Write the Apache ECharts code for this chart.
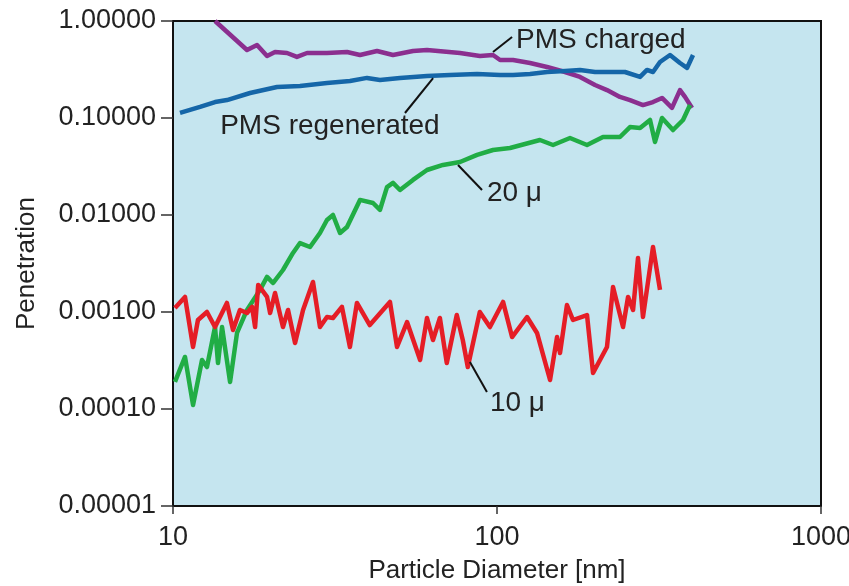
<!DOCTYPE html>
<html>
  <head>
    <meta charset="utf-8" />
    <title>Penetration vs particle diameter</title>
    <script src="https://cdn.jsdelivr.net/npm/echarts@6/dist/echarts.min.js"></script>
    <style>
      body {
        margin: 0;
        padding: 0;
        background: #fff;
      }
      #chart {
        width: 849px;
        height: 586px;
      }
    </style>
  </head>
  <body>
    <div id="chart"></div>
    <script type="text/javascript">
      // particle diameter [nm] / penetration
      var chargedX = [13.48, 16.92, 18.17, 19.51, 20.65, 22.49, 24.13, 25.92, 29.87, 34.44, 37.77, 42.62, 47.75, 55.04, 60.81, 76.88, 88.6, 97.2, 102.2,
        112.1, 126.5, 142.7, 162.2, 180.4, 200.7, 218.5, 239.6, 257.3, 282.2, 303.0, 323.1, 346.8, 367.1, 380.4, 399.9];
      var chargedY = [1.0, 0.502, 0.566, 0.436, 0.479, 0.468, 0.426, 0.468, 0.468, 0.479, 0.446, 0.491, 0.446, 0.491, 0.502, 0.468, 0.436, 0.446, 0.396,
        0.396, 0.369, 0.336, 0.298, 0.265, 0.219, 0.194, 0.165, 0.153, 0.136, 0.146, 0.161, 0.127, 0.194, 0.165, 0.127];

      var regenX = [10.51, 12.12, 13.48, 14.68, 17.29, 20.94, 24.66, 29.87, 35.18, 39.7, 43.54, 50.19, 60.81, 71.6, 86.8, 102.2,
        112.1, 126.5, 142.7, 162.2, 180.4, 200.7, 228.0, 248.3, 276.4, 290.4, 303.0, 318.5, 342, 367.1, 385.9, 402.7];
      var regenY = [0.113, 0.13, 0.146, 0.153, 0.181, 0.209, 0.214, 0.23, 0.241, 0.259, 0.247, 0.259, 0.271, 0.278, 0.284, 0.278,
        0.278, 0.284, 0.298, 0.305, 0.313, 0.298, 0.298, 0.298, 0.265, 0.313, 0.298, 0.378, 0.446, 0.369, 0.328, 0.446];

      var micro20X = [10.14, 10.89, 11.53, 12.29, 12.73, 13.48, 13.77, 14.17, 15.0, 15.76, 16.92, 18.56, 19.51, 20.35, 21.85, 23.46, 24.66, 26.48, 28.42,
        29.87, 31.17, 32.77, 34.44, 37.77, 41.43, 43.54, 45.76, 47.75, 50.19, 55.04, 60.81, 68.13, 76.88, 86.8, 97.2, 109.7,
        135.7, 148.9, 168.0, 189.6, 212.4, 239.6, 257.3, 276.4, 296.7, 307.4, 323.1, 349.3, 375.1, 394.2];
      var micro20Y = [1.9e-4, 3.44e-4, 1.1e-4, 3.2e-4, 2.71e-4, 7.0e-4, 2.98e-4, 7.0e-4, 1.9e-4, 6.08e-4, 1.05e-3, 1.69e-3, 2.3e-3, 1.99e-3, 2.71e-3, 4.06e-3, 5.14e-3, 4.68e-3, 6.52e-3,
        8.88e-3, 0.01, 6.52e-3, 7.52e-3, 0.0143, 0.0133, 0.0113, 0.0194, 0.0214, 0.0181, 0.023, 0.0291, 0.0328, 0.0352, 0.0416, 0.0468, 0.0491,
        0.0593, 0.0527, 0.0622, 0.0527, 0.0637, 0.0637, 0.0807, 0.0789, 0.0954, 0.0566, 0.1, 0.0752, 0.0954, 0.136];

      var micro10X = [10.14, 10.89, 11.53, 11.94, 12.73, 13.48, 14.67, 15.32, 16.09, 16.92, 17.54, 17.92, 18.32, 19.51, 19.94, 20.65, 21.85, 22.65, 23.81, 25.2,
        27.04, 28.42, 29.87, 31.17, 33.22, 35.16, 36.96, 40.49, 46.73, 49.13, 52.77, 57.9, 60.81, 63.45, 66.63, 69.98, 75.14, 78.41, 81.26,
        88.5, 95.1, 104.4, 111.3, 123.8, 132.9, 145.8, 153.2, 156.5, 164.4, 171.6, 189.6, 197.9, 218.5, 228.1, 244.9, 253.8, 263.0, 272.4, 282.2, 303.0, 318.5];
      var micro10Y = [1.1e-3, 1.43e-3, 4.36e-4, 8.27e-4, 1.0e-3, 7.0e-4, 1.24e-3, 6.52e-4, 1.05e-3, 9.77e-4, 1.13e-3, 7.0e-4, 1.9e-3, 1.43e-3, 9.77e-4, 1.57e-3, 7.0e-4, 1.05e-3, 4.79e-4, 1.05e-3,
        2.04e-3, 7.0e-4, 8.88e-4, 8.68e-4, 1.13e-3, 4.36e-4, 1.24e-3, 7.34e-4, 1.27e-3, 4.36e-4, 7.88e-4, 3.2e-4, 8.68e-4, 5.14e-4, 8.68e-4, 2.98e-4, 9.31e-4, 5.14e-4, 2.71e-4,
        1.0e-3, 7.0e-4, 1.27e-3, 5.52e-4, 8.88e-4, 6.08e-4, 1.99e-4, 5.52e-4, 3.78e-4, 1.18e-3, 8.27e-4, 9.31e-4, 2.35e-4, 4.36e-4, 1.81e-3, 7.0e-4, 1.43e-3, 1.05e-3, 3.6e-3, 8.88e-4, 4.68e-3, 1.69e-3];

      var xTicks = [10, 100, 1000];

      function zip(xs, ys) {
        return xs.map(function (x, i) {
          return [x, ys[i]];
        });
      }

      var font = 'Liberation Sans, Arial, Helvetica, sans-serif';
      var textColor = '#222';

      // leader line + label for each curve
      function note(text, from, to, at, pos) {
        return {
          markLine: {
            silent: true,
            symbol: 'none',
            animation: false,
            label: { show: false },
            lineStyle: { color: '#111', width: 2, type: 'solid' },
            data: [[{ coord: from }, { coord: to }]]
          },
          markPoint: {
            silent: true,
            symbol: 'circle',
            symbolSize: 0,
            animation: false,
            label: {
              show: true,
              position: pos,
              distance: 0,
              formatter: text,
              color: textColor,
              fontFamily: font,
              fontSize: 28
            },
            data: [{ coord: at }]
          }
        };
      }

      function lineSeries(name, data, color, extra) {
        var s = {
          name: name,
          type: 'line',
          data: data,
          showSymbol: false,
          symbol: 'none',
          smooth: false,
          clip: true,
          lineStyle: { color: color, width: 4.5, join: 'round' },
          itemStyle: { color: color },
          z: 3
        };
        for (var k in extra) s[k] = extra[k];
        return s;
      }

      var chart = echarts.init(document.getElementById('chart'), null, { renderer: 'canvas' });

      var option = {
        animation: false,
        backgroundColor: '#fff',
        grid: {
          left: 173,
          right: 28,
          top: 21,
          bottom: 80,
          containLabel: false,
          outerBoundsMode: 'none',
          show: true,
          backgroundColor: '#c5e5ef',
          borderColor: '#111',
          borderWidth: 2
        },
        xAxis: {
          type: 'log',
          logBase: 10,
          min: xTicks[0],
          max: xTicks[xTicks.length - 1],
          name: 'Particle Diameter [nm]',
          nameLocation: 'middle',
          nameGap: 52,
          nameTextStyle: { color: textColor, fontFamily: font, fontSize: 26, verticalAlign: 'top' },
          axisLine: { show: true, lineStyle: { color: '#111', width: 2 } },
          axisTick: { show: true, length: 8, lineStyle: { color: '#333', width: 1.5 } },
          axisLabel: {
            color: textColor,
            fontFamily: font,
            fontSize: 27,
            margin: 18,
            formatter: function (v) {
              return String(Math.round(v));
            }
          },
          minorTick: { show: false },
          splitLine: { show: false }
        },
        yAxis: {
          type: 'log',
          logBase: 10,
          min: 0.00001,
          max: 1,
          name: 'Penetration',
          nameLocation: 'middle',
          nameGap: 133,
          nameTextStyle: { color: textColor, fontFamily: font, fontSize: 26 },
          axisLine: { show: true, lineStyle: { color: '#111', width: 2 } },
          axisTick: { show: true, length: 12, lineStyle: { color: '#333', width: 1.5 } },
          axisLabel: {
            color: textColor,
            fontFamily: font,
            fontSize: 27,
            margin: 17,
            formatter: function (v) {
              return v.toFixed(5);
            }
          },
          splitLine: { show: false }
        },
        series: [
          lineSeries('PMS charged', zip(chargedX, chargedY), '#8b2f8f',
            note('PMS charged', [97.2, 0.479], [111.3, 0.684], [114.5, 0.637], 'right')),
          lineSeries('PMS regenerated', zip(regenX, regenY), '#1566a8',
            note('PMS regenerated', [63.5, 0.258], [52.0, 0.1126], [30.5, 0.0827], 'inside')),
          lineSeries('20 μ', zip(micro20X, micro20Y), '#21ad45',
            note('20 μ', [75.8, 0.0328], [89.9, 0.0181], [93.1, 0.01686], 'right')),
          lineSeries('10 μ', zip(micro10X, micro10Y), '#e51d26',
            note('10 μ', [82.5, 3.05e-4], [93.1, 1.5e-4], [95.1, 1.15e-4], 'right'))
        ]
      };

      chart.setOption(option);
    </script>
  </body>
</html>
